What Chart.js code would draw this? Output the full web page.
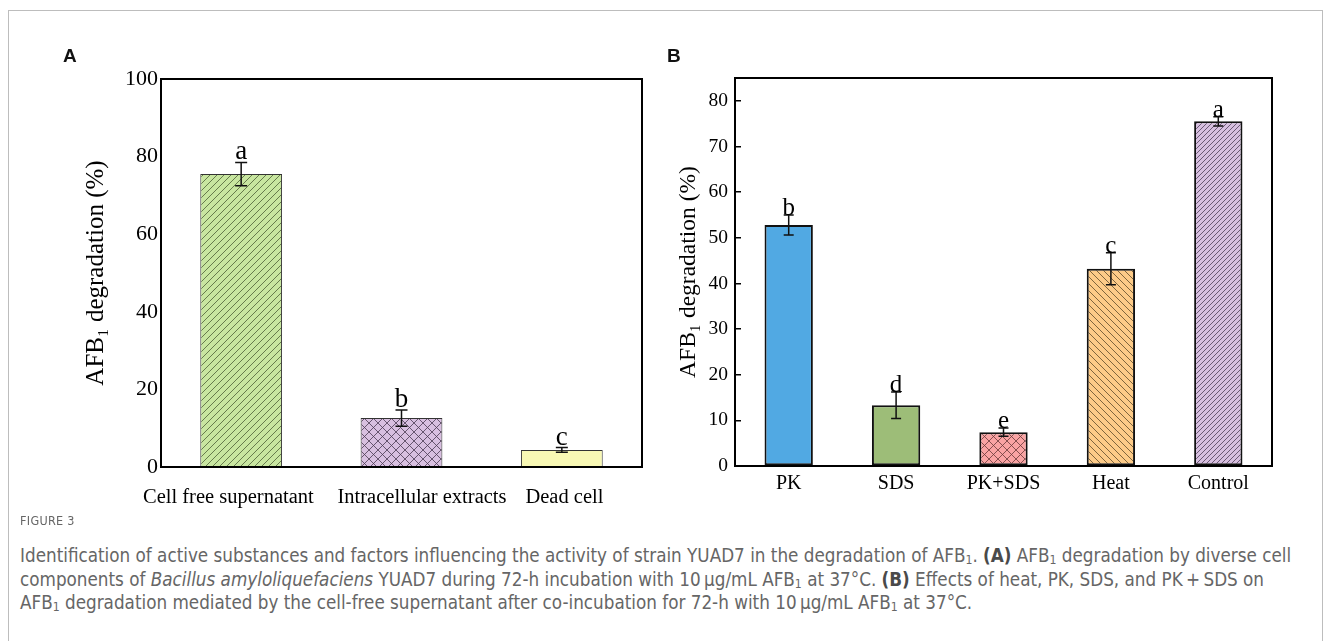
<!DOCTYPE html>
<html>
<head>
<meta charset="utf-8">
<script src="https://cdn.jsdelivr.net/npm/chart.js@4.4.0/dist/chart.umd.min.js"></script>
<style>
  body { margin: 0; background: #fff; width: 1330px; height: 641px; overflow: hidden; position: relative; }
  .frame { position: absolute; left: 8px; top: 10px; width: 1313px; height: 700px; border: 1px solid #bdbdbd; }
  .panel { position: absolute; top: 0; width: 665px; height: 520px; }
  .tag { position: absolute; top: 46px; font: bold 19px "Liberation Sans", Arial, sans-serif; line-height: 1; color: #111; }
  .fig { position: absolute; left: 20px; top: 513px; font: 12.5px "DejaVu Sans Condensed", sans-serif; color: #666; letter-spacing: 0.3px; }
  .cap { position: absolute; left: 20px; top: 544px; font: 18.7px "DejaVu Sans Condensed", sans-serif; color: #666; line-height: 23.5px; white-space: nowrap; }
  .cap b { color: #4a4a4a; }
  .cap sub { font-size: 65%; line-height: 0; vertical-align: -0.2em; }
</style>
</head>
<body>
<div class="frame"></div>
<div class="panel" style="left:0"><canvas id="chartA" width="665" height="520"></canvas></div>
<div class="panel" style="left:665px"><canvas id="chartB" width="665" height="520"></canvas></div>
<div class="tag" style="left:63px">A</div>
<div class="tag" style="left:667px">B</div>
<div class="fig">FIGURE 3</div>
<div class="cap">
Identification of active substances and factors influencing the activity of strain YUAD7 in the degradation of AFB<sub>1</sub>. <b>(A)</b> AFB<sub>1</sub> degradation by diverse cell<br>
components of <i>Bacillus amyloliquefaciens</i> YUAD7 during 72-h incubation with 10&thinsp;μg/mL AFB<sub>1</sub> at 37°C. <b>(B)</b> Effects of heat, PK, SDS, and PK&thinsp;+&thinsp;SDS on<br>
AFB<sub>1</sub> degradation mediated by the cell-free supernatant after co-incubation for 72-h with 10&thinsp;μg/mL AFB<sub>1</sub> at 37°C.
</div>

<script>
// Panel A data
const catsA = ['Cell free supernatant', 'Intracellular extracts', 'Dead cell'];
const valsA = [75.5, 12.6, 4.4];
const errA = [3.0, 2.1, 0.6];
const lettersA = ['a', 'b', 'c'];
const ticksA = [0, 20, 40, 60, 80, 100];

// Panel B data
const catsB = ['PK', 'SDS', 'PK+SDS', 'Heat', 'Control'];
const valsB = [52.8, 13.3, 7.4, 43.2, 75.5];
const errB = [2.2, 2.9, 0.9, 3.5, 1.0];
const lettersB = ['b', 'd', 'e', 'c', 'a'];
const ticksB = [0, 10, 20, 30, 40, 50, 60, 70, 80];

const SERIF = '"Liberation Serif", "Times New Roman", serif';

// Hatch pattern: '/', '\\' or 'x'
function hatch(bg, kind, gap, color, lw) {
    const c = document.createElement('canvas');
    c.width = c.height = gap;
    const g = c.getContext('2d');
    g.fillStyle = bg;
    g.fillRect(0, 0, gap, gap);
    g.strokeStyle = color;
    g.lineWidth = lw;
    g.beginPath();
    if (kind === '/' || kind === 'x') {
        g.moveTo(-1, gap + 1); g.lineTo(gap + 1, -1);
        g.moveTo(-1, 1); g.lineTo(1, -1);
        g.moveTo(gap - 1, gap + 1); g.lineTo(gap + 1, gap - 1);
    }
    if (kind === '\\' || kind === 'x') {
        g.moveTo(-1, -1); g.lineTo(gap + 1, gap + 1);
        g.moveTo(gap - 1, -1); g.lineTo(gap + 1, 1);
        g.moveTo(-1, gap - 1); g.lineTo(1, gap + 1);
    }
    g.stroke();
    return g.createPattern(c, 'repeat');
}

// Box around the plot area
const framePlugin = {
    id: 'frame',
    afterDraw(chart) {
        const a = chart.chartArea;
        const ctx = chart.ctx;
        ctx.save();
        ctx.strokeStyle = '#000';
        ctx.lineWidth = 2;
        ctx.strokeRect(a.left, a.top, a.right - a.left, a.bottom - a.top);
        ctx.restore();
    }
};

// Error bars and significance letters
const marksPlugin = {
    id: 'marks',
    afterDatasetsDraw(chart, args, opts) {
        const ctx = chart.ctx;
        const y = chart.scales.y;
        const meta = chart.getDatasetMeta(0);
        ctx.save();
        meta.data.forEach((bar, i) => {
            const hi = y.getPixelForValue(opts.vals[i] + opts.errs[i]);
            const lo = y.getPixelForValue(opts.vals[i] - opts.errs[i]);
            ctx.strokeStyle = '#111';
            ctx.lineWidth = 1.5;
            ctx.beginPath();
            ctx.moveTo(bar.x, hi); ctx.lineTo(bar.x, lo);
            ctx.moveTo(bar.x - opts.cap, hi); ctx.lineTo(bar.x + opts.cap, hi);
            ctx.moveTo(bar.x - opts.cap, lo); ctx.lineTo(bar.x + opts.cap, lo);
            ctx.stroke();
            ctx.fillStyle = '#000';
            ctx.font = opts.font + 'px ' + SERIF;
            ctx.textAlign = 'center';
            ctx.textBaseline = 'alphabetic';
            ctx.fillText(opts.letters[i], bar.x, hi - opts.gap);
        });
        ctx.restore();
    }
};

function makeChart(id, cfg) {
    return new Chart(document.getElementById(id), {
        type: 'bar',
        data: {
            labels: cfg.labels,
            datasets: [{
                data: cfg.vals,
                backgroundColor: cfg.fills,
                borderColor: cfg.edge,
                borderWidth: cfg.edgeWidth,
                borderSkipped: false,
                categoryPercentage: 1,
                barPercentage: cfg.barPct
            }]
        },
        options: {
            responsive: false,
            animation: false,
            layout: { padding: cfg.padding },
            plugins: {
                legend: { display: false },
                tooltip: { enabled: false },
                marks: { vals: cfg.vals, errs: cfg.errs, letters: cfg.letters, cap: cfg.cap, font: cfg.letterSize, gap: cfg.letterGap }
            },
            scales: {
                x: {
                    grid: { display: false, drawTicks: false },
                    border: { display: false },
                    ticks: {
                        color: '#000', font: { family: SERIF, size: cfg.xFont }, padding: cfg.xPad, maxRotation: 0, autoSkip: false,
                        // nudge labels sideways (spaces) so long names do not collide
                        callback: (v, i) => {
                            const n = cfg.nudge[i];
                            const pad = ' '.repeat(Math.abs(n));
                            return n < 0 ? cfg.labels[i] + pad : pad + cfg.labels[i];
                        }
                    },
                    afterFit: s => { s.height = cfg.xHeight; }
                },
                y: {
                    min: 0,
                    max: cfg.yMax,
                    grid: { display: cfg.inTicks, drawOnChartArea: false, drawTicks: true, tickLength: -6, color: '#000', lineWidth: 1.5 },
                    border: { display: false },
                    ticks: { color: '#000', font: { family: SERIF, size: cfg.yFont }, padding: cfg.yPad },
                    afterBuildTicks: s => { s.ticks = cfg.ticks.map(v => ({ value: v })); },
                    afterFit: s => { s.width = cfg.yWidth; },
                    title: { display: true, text: 'AFB₁ degradation (%)', color: '#000', font: { family: SERIF, size: cfg.titleSize }, padding: { top: cfg.titlePad, bottom: 0 } }
                }
            }
        },
        plugins: [marksPlugin, framePlugin]
    });
}

makeChart('chartA', {
    labels: catsA, vals: valsA, errs: errA, letters: lettersA, ticks: ticksA,
    fills: [hatch('#c8e6a0', '/', 7, '#4d5f36', 0.8), hatch('#d8bfe0', 'x', 9, '#4a3a52', 0.8), '#f8f8b4'],
    edge: '#333', edgeWidth: 1, barPct: 0.51,
    padding: { left: 0, top: 79, right: 23, bottom: 0 },
    yMax: 100, yWidth: 161, yFont: 22, yPad: 9, inTicks: false,
    xFont: 20.5, xPad: 18, xHeight: 53, nudge: [-5, 8, 1],
    titleSize: 25, titlePad: 81,
    cap: 6, letterSize: 27, letterGap: 3
});

makeChart('chartB', {
    labels: catsB, vals: valsB, errs: errB, letters: lettersB, ticks: ticksB,
    fills: ['#51a9e3', '#9dbd78', hatch('#f9a3a3', 'x', 9, '#6a3a3a', 0.8), hatch('#fdcb88', '\\', 7, '#5e4a2a', 0.8), hatch('#d7bfe0', '/', 5, '#4e3e58', 0.8)],
    edge: '#111', edgeWidth: 2, barPct: 0.45,
    padding: { left: 0, top: 78, right: 58, bottom: 0 },
    yMax: 85, yWidth: 70, yFont: 19.5, yPad: 13, inTicks: true,
    xFont: 20, xPad: 6, xHeight: 54, nudge: [0, 0, 0, 0, 0],
    titleSize: 23.5, titlePad: 10,
    cap: 5, letterSize: 25, letterGap: 0
});
</script>
</body>
</html>
